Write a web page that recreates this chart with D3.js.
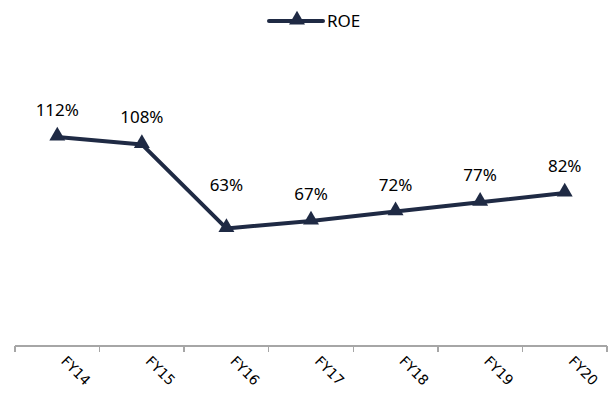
<!DOCTYPE html>
<meta charset="utf-8">
<style>
body { margin: 0; background: #fff; }
.axis path, .axis line { stroke: #a6a6a6; stroke-width: 1.5; shape-rendering: crispEdges; }
.axis text { font: 14px "DejaVu Sans", sans-serif; fill: #000; }
.label { font: 17px "Noto Sans", sans-serif; fill: #000; }
</style>
<body>
<script src="https://cdn.jsdelivr.net/npm/d3@7"></script>
<script>

var years = ["FY14", "FY15", "FY16", "FY17", "FY18", "FY19", "FY20"];
var roe = [112, 108, 63, 67, 72, 77, 82];
var seriesName = "ROE";

var width = 616, height = 394;
var navy = "#1f2a44";

var svg = d3.select("body").append("svg")
    .attr("width", width)
    .attr("height", height);

var x = d3.scaleBand()
    .domain(years)
    .range([15, 607]);

var y = d3.scaleLinear()
    .domain([0, 120])
    .range([346, 122]);

function cx(i) { return x(years[i]) + x.bandwidth() / 2; }

// x axis, ticks sit between categories
var axis = svg.append("g")
    .attr("class", "axis")
    .attr("transform", "translate(0," + y(0) + ")");

axis.append("line")
    .attr("x1", x.range()[0]).attr("x2", x.range()[1]);

axis.selectAll(".tick")
    .data(d3.range(years.length + 1))
  .enter().append("line")
    .attr("x1", function(i) { return x.range()[0] + i * x.step(); })
    .attr("x2", function(i) { return x.range()[0] + i * x.step(); })
    .attr("y1", 0).attr("y2", 6);

axis.selectAll("text")
    .data(years)
  .enter().append("text")
    .attr("transform", function(d) {
      return "translate(" + (x(d) + x.bandwidth() / 2 + 3) + ",16) rotate(45)";
    })
    .attr("text-anchor", "start")
    .text(function(d) { return d; });

var line = d3.line()
    .x(function(d, i) { return cx(i); })
    .y(function(d) { return y(d); });

svg.append("path")
    .datum(roe)
    .attr("fill", "none")
    .attr("stroke", navy)
    .attr("stroke-width", 4)
    .attr("stroke-linejoin", "round")
    .attr("d", line);

var tri = d3.symbol().type(d3.symbolTriangle).size(110);

svg.selectAll(".marker")
    .data(roe)
  .enter().append("path")
    .attr("class", "marker")
    .attr("fill", navy)
    .attr("d", tri)
    .attr("transform", function(d, i) {
      return "translate(" + cx(i) + "," + (y(d) - 1) + ")";
    });

// labels above points; lift further where the line comes down steeply
svg.selectAll(".label")
    .data(roe)
  .enter().append("text")
    .attr("class", "label")
    .attr("text-anchor", "middle")
    .attr("x", function(d, i) { return cx(i); })
    .attr("y", function(d, i) {
      var steep = i > 0 && roe[i - 1] - d > 20;
      return y(d) - (steep ? 37 : 21);
    })
    .text(function(d) { return d + "%"; });

// legend
var legend = svg.append("g").attr("transform", "translate(269,21)");
legend.append("line")
    .attr("x1", 0).attr("x2", 54)
    .attr("stroke", navy).attr("stroke-width", 4).attr("stroke-linecap", "round");
legend.append("path")
    .attr("d", tri)
    .attr("fill", navy)
    .attr("transform", "translate(28,-1)");
legend.append("text")
    .attr("class", "label")
    .attr("x", 58)
    .attr("y", 6)
    .text(seriesName);

</script>
</body>
